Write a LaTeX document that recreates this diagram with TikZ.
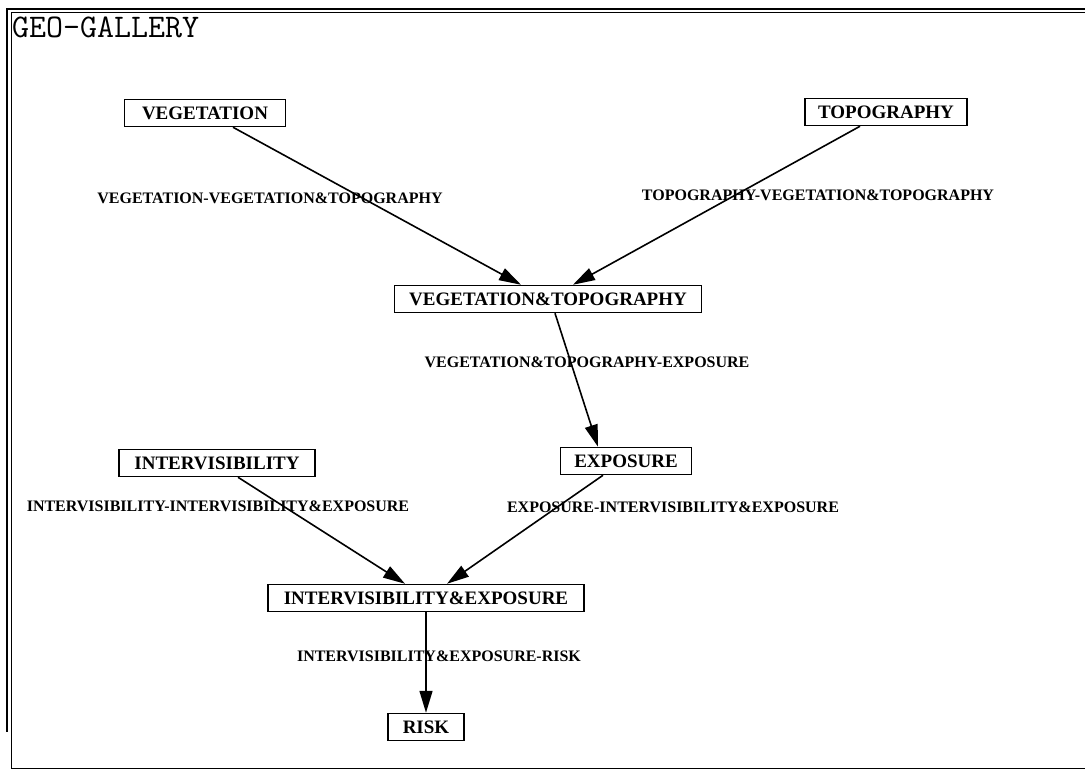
\documentclass[tikz,border=0pt]{standalone}
\usepackage{fontspec}
\setmainfont{Liberation Serif}
\usetikzlibrary{arrows.meta}
\tikzset{
  box/.style={draw, line width=1.5pt, font=\fontsize{19}{19}\selectfont\bfseries,
    inner xsep=6pt, inner ysep=0pt, minimum height=27pt},
  elabel/.style={font=\fontsize{16}{16}\selectfont\bfseries, inner sep=0pt},
  conn/.style={line width=1.6pt, -{Triangle[length=22pt,width=13pt]}},
  frame/.style={line width=1pt}
}
\begin{document}
\begin{tikzpicture}[x=1pt,y=-1pt]
\useasboundingbox (0,0) rectangle (1085,770);
% frame
\draw[line width=2.2pt] (1085,9) -- (7,9) -- (7,732);
\draw[frame] (1085,13) -- (11,13) -- (11,768) -- (1085,768);
\node[anchor=base west, inner sep=0pt, font=\ttfamily\fontsize{33}{33}\selectfont] (title) at (12,38) {GEO-GALLERY};
% nodes
\node[box,minimum width=161pt] (veg) at (205,113) {VEGETATION};
\node[box,minimum width=162pt] (topo) at (886,112) {TOPOGRAPHY};
\node[box,minimum width=307pt] (vt) at (548,299) {VEGETATION\&TOPOGRAPHY};
\node[box,minimum width=131pt] (exp) at (626,461) {EXPOSURE};
\node[box,minimum width=196pt] (int) at (217,463) {INTERVISIBILITY};
\node[box,minimum width=316pt] (ie) at (426,598) {INTERVISIBILITY\&EXPOSURE};
\node[box,minimum width=76pt] (risk) at (426,727) {RISK};
% connectors
\draw[conn] ([xshift=28pt]veg.south) -- ([xshift=-27pt]vt.north);
\draw[conn] ([xshift=-26pt]topo.south) -- ([xshift=25pt]vt.north);
\draw[conn] ([xshift=7pt]vt.south) -- ([xshift=-28pt]exp.north);
\draw[conn] ([xshift=21pt]int.south) -- ([xshift=-21pt]ie.north);
\draw[conn] ([xshift=-23pt]exp.south) -- ([xshift=21pt]ie.north);
\draw[conn] (ie.south) -- (risk.north);
% connector labels
\node[elabel] (l1) at (270,198) {VEGETATION-VEGETATION\&TOPOGRAPHY};
\node[elabel] (l2) at (818,195) {TOPOGRAPHY-VEGETATION\&TOPOGRAPHY};
\node[elabel] (l3) at (587,362) {VEGETATION\&TOPOGRAPHY-EXPOSURE};
\node[elabel] (l4) at (218,506) {INTERVISIBILITY-INTERVISIBILITY\&EXPOSURE};
\node[elabel] (l5) at (673,507) {EXPOSURE-INTERVISIBILITY\&EXPOSURE};
\node[elabel] (l6) at (439,656) {INTERVISIBILITY\&EXPOSURE-RISK};
\end{tikzpicture}
\end{document}
